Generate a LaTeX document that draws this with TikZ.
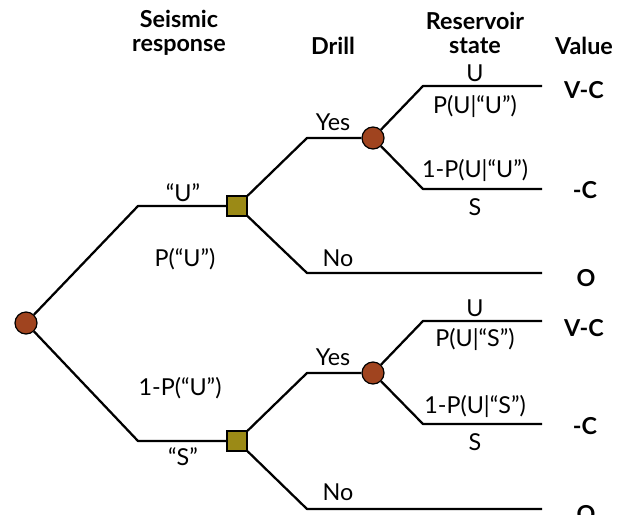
\documentclass[tikz,border=0pt]{standalone}
\usepackage{fontspec}
\setmainfont{Lato}
\begin{document}
\begin{tikzpicture}[x=0.75pt,y=-0.75pt,
  branch/.style={line width=1.7pt, line join=round},
  chance/.style={circle, draw=black, line width=0.9pt, fill=chancefill, minimum size=16.5pt, inner sep=0pt},
  decision/.style={rectangle, draw=black, line width=0.9pt, fill=decisionfill, minimum size=15pt, inner sep=0pt},
  lbl/.style={font=\fontsize{17.5}{19}\selectfont, inner sep=0pt, anchor=center},
  head/.style={font=\bfseries\fontsize{17.5}{19}\selectfont, inner sep=0pt, anchor=center, align=center},
]
\definecolor{chancefill}{HTML}{A0441F}
\definecolor{decisionfill}{HTML}{9B8A16}
\useasboundingbox (0,0) rectangle (627,514);

% column headers
\node[head] (hseis) at (179,33) {Seismic\\[-1pt]response};
\node[head] (hdrill) at (333,46) {Drill};
\node[head] (hres) at (475,33) {Reservoir\\[-1pt]state};
\node[head] (hval) at (584,46) {Value};

% nodes
\node[chance] (root) at (26,323) {};
\node[decision] (sqU) at (237,206) {};
\node[decision] (sqS) at (237,441) {};
\node[chance] (cU) at (373,138) {};
\node[chance] (cS) at (373,373) {};

% bends and leaf ends
\coordinate (bU) at (138,206);
\coordinate (bS) at (138,441);
\coordinate (yU) at (307,138);
\coordinate (nU) at (307,273);
\coordinate (yS) at (307,373);
\coordinate (nS) at (307,509);
\coordinate (uU) at (423,86);
\coordinate (sU) at (423,189);
\coordinate (uS) at (423,321);
\coordinate (sS) at (423,424);
\coordinate (euU) at (542,86);
\coordinate (esU) at (542,189);
\coordinate (enU) at (542,273);
\coordinate (euS) at (542,321);
\coordinate (esS) at (542,424);
\coordinate (enS) at (542,509);

% branches
\draw[branch] (root) -- (bU) -- (sqU);
\draw[branch] (root) -- (bS) -- (sqS);
\draw[branch] (sqU) -- (yU) -- (cU);
\draw[branch] (sqU) -- (nU) -- (enU);
\draw[branch] (sqS) -- (yS) -- (cS);
\draw[branch] (sqS) -- (nS) -- (enS);
\draw[branch] (cU) -- (uU) -- (euU);
\draw[branch] (cU) -- (sU) -- (esU);
\draw[branch] (cS) -- (uS) -- (euS);
\draw[branch] (cS) -- (sS) -- (esS);

% branch labels
\node[lbl] (lU) at (183,193) {“U”};
\node[lbl] (lpU) at (185,259) {P(“U”)};
\node[lbl] (lpS) at (180,388) {1-P(“U”)};
\node[lbl] (lS) at (183,457) {“S”};

\node[lbl] (yesU) at (333,122) {Yes};
\node[lbl] (noU) at (338,258) {No};
\node[lbl] (yesS) at (333,357) {Yes};
\node[lbl] (noS) at (338,492) {No};

\node[lbl] (rU1) at (475,73) {U};
\node[lbl] (rU2) at (475,106) {P(U|“U”)};
\node[lbl] (rU3) at (475,170) {1-P(U|“U”)};
\node[lbl] (rU4) at (475,207) {S};
\node[lbl] (rS1) at (475,308) {U};
\node[lbl] (rS2) at (475,339) {P(U|“S”)};
\node[lbl] (rS3) at (475,406) {1-P(U|“S”)};
\node[lbl] (rS4) at (475,442) {S};

% values
\node[head] (vU1) at (584,90) {V-C};
\node[head] (vU2) at (585,190) {-C};
\node[head] (vU3) at (586,278) {O};
\node[head] (vS1) at (584,328) {V-C};
\node[head] (vS2) at (585,426) {-C};
\node[head] (vS3) at (586,514) {O};
\end{tikzpicture}
\end{document}
